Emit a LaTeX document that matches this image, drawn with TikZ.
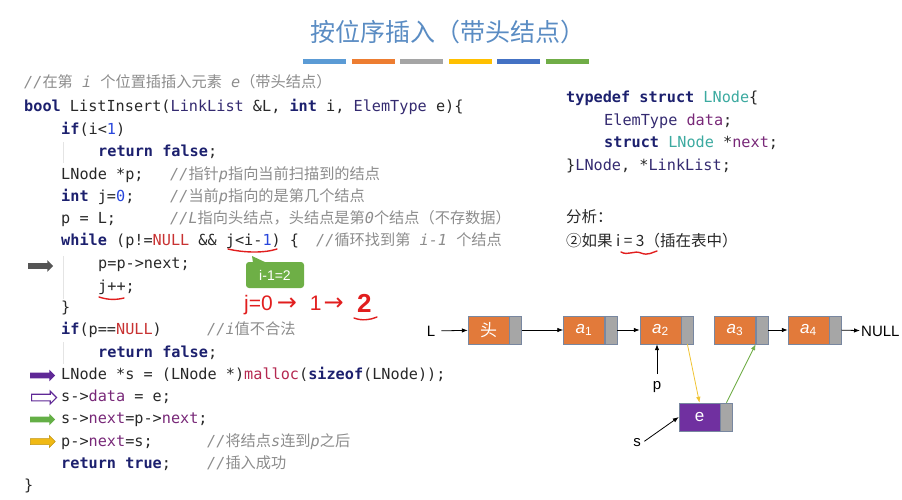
\documentclass[tikz,border=0pt]{standalone}
\usepackage{fontspec}
\setmainfont{Liberation Sans}
\setmonofont{DejaVu Sans Mono}
\newfontfamily\cjk{Noto Sans CJK SC}
\newfontfamily\symf{DejaVu Sans}
\usetikzlibrary{arrows.meta, positioning, shapes.arrows}
\definecolor{kwnavy}{RGB}{28,32,110}
\definecolor{typenavy}{RGB}{52,42,112}
\definecolor{codeblack}{RGB}{40,40,40}
\definecolor{numblue}{RGB}{40,70,220}
\definecolor{nullred}{RGB}{200,50,50}
\definecolor{mallocred}{RGB}{180,40,80}
\definecolor{fldpurple}{RGB}{120,40,120}
\definecolor{structteal}{RGB}{60,170,160}
\definecolor{cmtgray}{RGB}{140,140,140}
\definecolor{titleblue}{RGB}{90,140,195}
\definecolor{penred}{RGB}{225,30,30}
\definecolor{calloutgreen}{RGB}{110,175,70}
\definecolor{arrowgray}{RGB}{85,85,85}
\definecolor{mkpurple}{RGB}{95,40,150}
\definecolor{mkgreen}{RGB}{100,175,70}
\definecolor{mkyellow}{RGB}{240,185,20}
\definecolor{nodeorange}{RGB}{226,122,58}
\definecolor{ptrgray}{RGB}{166,166,166}
\definecolor{boxedge}{RGB}{120,135,160}
\definecolor{evpurple}{RGB}{112,48,160}
\definecolor{ptryellow}{RGB}{240,195,50}
\definecolor{ptrgreen}{RGB}{112,173,71}
\definecolor{guidegray}{RGB}{228,228,228}
\definecolor{barblue}{RGB}{91,155,213}
\definecolor{barorange}{RGB}{237,125,49}
\definecolor{bargray}{RGB}{165,165,165}
\definecolor{baryellow}{RGB}{255,192,0}
\definecolor{barnavy}{RGB}{68,114,196}
\definecolor{bargreen}{RGB}{112,173,71}
\newcommand{\codefont}{\ttfamily\fontsize{15.2}{18}\selectfont}
\newcommand{\zh}[1]{{\cjk #1}}
\newcommand{\ckw}[1]{{\bfseries\color{kwnavy}#1}}
\newcommand{\cty}[1]{{\color{typenavy}#1}}
\newcommand{\cnum}[1]{{\color{numblue}#1}}
\newcommand{\cred}[1]{{\color{nullred}#1}}
\newcommand{\cmal}[1]{{\color{mallocred}#1}}
\newcommand{\cfld}[1]{{\color{fldpurple}#1}}
\newcommand{\cteal}[1]{{\color{structteal}#1}}
\newcommand{\ccmt}[1]{{\color{cmtgray}\itshape #1}}
\newcommand{\penarrow}{{\symf\fontsize{24}{24}\selectfont →}}

\begin{document}
\begin{tikzpicture}[x=1pt, y=-1pt,
  code/.style={anchor=west, inner sep=0pt, text height=11pt, text depth=3pt, font=\codefont, text=codeblack},
  datbox/.style={draw=boxedge, fill=nodeorange, minimum width=41pt, minimum height=28pt, inner sep=0pt, text=white, font=\fontsize{17}{17}\selectfont},
  ptrbox/.style={draw=boxedge, fill=ptrgray, minimum width=12pt, minimum height=28pt, inner sep=0pt},
  lbl/.style={inner sep=1pt, font=\fontsize{15}{15}\selectfont, text=black},
  link/.style={-{Latex[length=6pt,width=4.5pt]}, line width=0.8pt},
  blk/.style={single arrow, minimum height=25pt, text height=5.5pt, text depth=0pt, text width=0pt, single arrow head extend=3pt, inner sep=0pt, anchor=west},
  redpen/.style={draw=penred, line width=1.4pt, line cap=round},
  guide/.style={draw=guidegray, line width=0.8pt}]
  \useasboundingbox (0,0) rectangle (902,499);

  \node[font=\cjk\fontsize{25}{25}\selectfont, text=titleblue] (title) at (448,32) {按位序插入（带头结点）};
  \foreach \c [count=\i from 0] in {barblue,barorange,bargray,baryellow,barnavy,bargreen}
    \fill[\c] ({303+48.6*\i},59) rectangle ++(43,5);

  % code
  \node[code] (l1) at (24,83) {\ccmt{//\zh{在第} i \zh{个位置插插入元素} e\zh{（带头结点）}}};
  \node[code] (l2) at (24,107) {\ckw{bool} ListInsert(\cty{LinkList} \&L, \ckw{int} i, \cty{ElemType} e)\{};
  \node[code] (l3) at (61,130) {\ckw{if}(i<\cnum{1})};
  \node[code] (l4) at (98,152) {\ckw{return false};};
  \node[code] (l5) at (61,175) {LNode *p;};
  \node[code] (c5) at (170,175) {\ccmt{//\zh{指针}p\zh{指向当前扫描到的结点}}};
  \node[code] (l6) at (61,197) {\ckw{int} j=\cnum{0};};
  \node[code] (c6) at (170,197) {\ccmt{//\zh{当前}p\zh{指向的是第几个结点}}};
  \node[code] (l7) at (61,219) {p = L;};
  \node[code] (c7) at (170,219) {\ccmt{//L\zh{指向头结点，头结点是第}0\zh{个结点（不存数据）}}};
  \node[code] (l8) at (61,241) {\ckw{while} (p!=\cred{NULL} \&\& j<i-\cnum{1}) \{};
  \node[code] (c8) at (316,241) {\ccmt{//\zh{循环找到第} i-1 \zh{个结点}}};
  \node[code] (l9) at (98,264) {p=p->next;};
  \node[code] (l10) at (98,287) {j++;};
  \node[code] (l11) at (61,308) {\}};
  \node[code] (l12) at (61,330) {\ckw{if}(p==\cred{NULL})};
  \node[code] (c12) at (207,330) {\ccmt{//i\zh{值不合法}}};
  \node[code] (l13) at (98,353) {\ckw{return false};};
  \node[code] (l14) at (61,375) {LNode *s = (LNode *)\cmal{malloc}(\ckw{sizeof}(LNode));};
  \node[code] (l15) at (61,397) {s->\cfld{data} = e;};
  \node[code] (l16) at (61,419) {s->\cfld{next}=p->\cfld{next};};
  \node[code] (l17) at (61,442) {p->\cfld{next}=s;};
  \node[code] (c17) at (207,442) {\ccmt{//\zh{将结点}s\zh{连到}p\zh{之后}}};
  \node[code] (l18) at (61,464) {\ckw{return true};};
  \node[code] (c18) at (207,464) {\ccmt{//\zh{插入成功}}};
  \node[code] (l19) at (24,486) {\}};
  \draw[guide] (63,142) -- (63,163);
  \draw[guide] (63,256) -- (63,299);
  \draw[guide] (63,342) -- (63,364);

  % step markers
  \node[blk, fill=arrowgray] (mk9) at (28,266) {};
  \node[blk, fill=mkpurple] (mk14) at (30,375.5) {};
  \node[blk, fill=white, draw=mkpurple, line width=1.2pt] (mk15) at (31,397.5) {};
  \node[blk, fill=mkgreen] (mk16) at (30,419.5) {};
  \node[blk, fill=mkyellow, draw=mkyellow!80!black, line width=0.5pt] (mk17) at (30,441.5) {};

  % struct
  \node[code] (st1) at (566,98) {\ckw{typedef struct} \cteal{LNode}\{};
  \node[code] (st2) at (604,121) {\cty{ElemType} \cfld{data};};
  \node[code] (st3) at (604,143) {\ckw{struct} \cteal{LNode} *\cfld{next};};
  \node[code] (st4) at (566,166) {\}\cty{LNode}, *\cty{LinkList};};
  \node[anchor=west, inner sep=0pt, font=\cjk\fontsize{15.5}{16}\selectfont, text=codeblack] (an1) at (566,217) {分析：};
  \node[anchor=west, inner sep=0pt, font=\cjk\fontsize{15.5}{16}\selectfont, text=codeblack] (an2) at (566,241) {②如果 i = 3（插在表中）};

  % pen notes
  \draw[redpen] (228,249) .. controls (245,253) and (265,253) .. (277,249);
  \draw[redpen] (99,297) .. controls (108,300) and (116,300) .. (124,298);
  \draw[redpen] (621,252) .. controls (628,256) and (634,250) .. (641,253) .. controls (648,256) and (653,252) .. (657,251);
  \node[anchor=west, inner sep=0pt, text=penred, font=\fontsize{21}{21}\selectfont] (trace) at (244,305) {j=0\hspace{4pt}\penarrow\hspace{13pt}1\hspace{2pt}\penarrow};
  \node[anchor=west, inner sep=0pt, text=penred, font=\bfseries\fontsize{26}{26}\selectfont] (two) at (357,303) {2};
  \draw[redpen] (354,318) .. controls (362,321) and (370,320) .. (377,317);
  \node[fill=calloutgreen, rounded corners=3pt, text=white, font=\fontsize{14}{14}\selectfont, minimum width=58pt, minimum height=26pt, inner sep=0pt] (call) at (275,275) {i-1=2};
  \fill[calloutgreen] (253,263) -- (252,256) -- (267,263) -- cycle;

  % linked list
  \node[datbox] (hd) at (488.5,330) {\cjk 头};
  \node[ptrbox, right=0pt of hd] (hdp) {};
  \node[datbox] (a1) at (584,330) {{\itshape a}\textsubscript{1}};
  \node[ptrbox, right=0pt of a1] (a1p) {};
  \node[datbox] (a2) at (660.5,330) {{\itshape a}\textsubscript{2}};
  \node[ptrbox, right=0pt of a2] (a2p) {};
  \node[datbox] (a3) at (735,330) {{\itshape a}\textsubscript{3}};
  \node[ptrbox, right=0pt of a3] (a3p) {};
  \node[datbox] (a4) at (808.5,330) {{\itshape a}\textsubscript{4}};
  \node[ptrbox, right=0pt of a4] (a4p) {};
  \node[datbox, fill=evpurple] (e) at (699.5,417) {e};
  \node[ptrbox, right=0pt of e] (ep) {};
  \node[lbl] (L) at (431,331) {L};
  \node[lbl, anchor=west] (null) at (860,331) {NULL};
  \node[lbl] (p) at (657,387) {p};
  \node[lbl] (s) at (637,443) {s};

  \draw[link, shorten <=5pt] (L) -- (hd);
  \draw[link] (hdp) -- (a1);
  \draw[link] (a1p) -- (a2);
  \draw[link] (a3p) -- (a4);
  \draw[link] (a4p) -- (null);
  \draw[link, shorten <=6pt] (p.north) -- (p.north |- a2.south);
  \draw[link, shorten <=3pt] (s.east) -- (e.west);
  \draw[link, draw=ptryellow] (a2p.south) -- (e.north);
  \draw[link, draw=ptrgreen] (ep.north) -- (a3.south east);
\end{tikzpicture}
\end{document}
